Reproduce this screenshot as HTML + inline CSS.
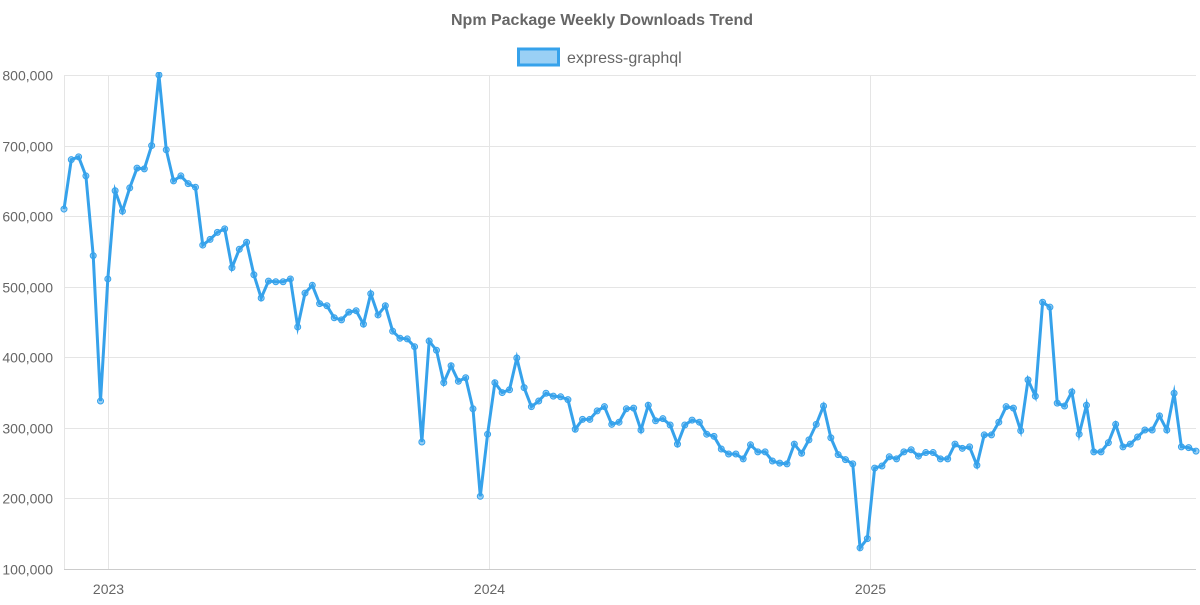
<!DOCTYPE html>
<html><head><meta charset="utf-8"><style>
body{margin:0;background:#fff;}
svg text{font-family:"Liberation Sans",Arial,sans-serif;}
</style></head><body>
<svg id="c" width="1200" height="600" xmlns="http://www.w3.org/2000/svg">
<defs><clipPath id="plotclip"><rect x="0" y="72" width="1200" height="528"/></clipPath></defs>
<text x="602" y="25" text-anchor="middle" font-size="16" font-weight="bold" fill="#666">Npm Package Weekly Downloads Trend</text>
<g>
<rect x="518.5" y="49" width="40" height="16" fill="rgba(54,162,235,0.5)" stroke="#36a2eb" stroke-width="3"/>
<text x="567" y="63" font-size="16" fill="#666">express-graphql</text>
</g>
<g id="grid"></g><g id="axes"></g><g id="series" clip-path="url(#plotclip)"></g>
</svg>
<script>
const values=[610,680,684,657,544,338,511,636,607,640,668,667,700,800,694,650,657,646,641,559,567,577,582,527,553,563,517,484,508,507,507,511,443,491,502,476,473,456,453,464,466,447,490,460,473,437,427,426,415,280,423,410,364,388,366,371,327,203,291,364,350,354,399,357,330,338,349,345,344,340,298,312,312,324,330,305,308,327,328,297,332,310,313,304,277,304,311,308,291,288,270,263,263,256,276,266,266,253,250,249,277,264,283,305,331,286,262,255,249,130,143,243,246,259,256,266,269,260,265,265,256,256,277,271,273,247,290,290,308,330,328,296,368,345,478,471,335,331,351,291,332,266,266,279,305,273,277,287,297,297,317,297,349,273,272,267].map(v=>v*1000);
const startDate="2022-11-20";
const yTicks=[100000,200000,300000,400000,500000,600000,700000,800000];
const yearLabels=["2023","2024","2025"];
const NS="http://www.w3.org/2000/svg";
const L=64,R=1196,T=75,B=569,yMin=100000,yMax=800000;
const day=86400000, t0=Date.parse(startDate), tN=t0+(values.length-1)*7*day;
const xs=t=>L+(t-t0)/(tN-t0)*(R-L);
const ys=v=>B-(v-yMin)/(yMax-yMin)*(B-T);
function mk(tag,attrs,parent){const e=document.createElementNS(NS,tag);for(const k in attrs)e.setAttribute(k,attrs[k]);document.getElementById(parent).appendChild(e);return e;}
yTicks.forEach(v=>{const y=Math.round(ys(v))+0.5;
 const g=mk('line',{x1:L,x2:R,y1:y,y2:y,stroke:'#e5e5e5','stroke-width':1},'grid');
 
 
 const t=mk('text',{x:53,y:y+5,'text-anchor':'end','font-size':14,fill:'#666'},'axes');
 
 
 t.textContent=v.toLocaleString('en-US');});
const vl=mk('line',{x1:L+0.5,x2:L+0.5,y1:T,y2:B,stroke:'#e5e5e5'},'grid');


yearLabels.forEach(yr=>{const x=Math.round(xs(Date.parse(yr+"-01-01")))+0.5;
 const g=mk('line',{x1:x,x2:x,y1:T,y2:B,stroke:'#e5e5e5'},'grid');
 
 
 const t=mk('text',{x:x,y:594,'text-anchor':'middle','font-size':14,fill:'#666'},'axes');
 
 
 t.textContent=yr;});
const bl=mk('line',{x1:L,x2:R,y1:B+0.5,y2:B+0.5,stroke:'#ccc'},'grid');


const pts=values.map((v,i)=>[xs(t0+i*7*day),ys(v)]);
const line=mk('polyline',{points:pts.map(p=>p.join(',')).join(' '),fill:'none',stroke:'#36a2eb','stroke-width':3,'stroke-linejoin':'miter','stroke-miterlimit':10},'series');


pts.forEach(p=>{const c=mk('circle',{cx:p[0],cy:p[1],r:3,fill:'rgba(54,162,235,0.5)',stroke:'#36a2eb','stroke-width':1},'series');
 
 });
</script>
</body></html>
